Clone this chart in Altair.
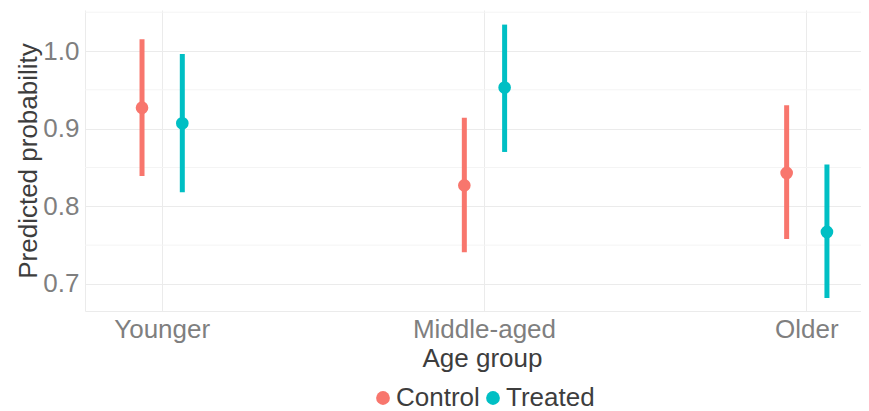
import altair as alt
import pandas as pd

groups = ["Younger", "Middle-aged", "Older"]
arms = ["Control", "Treated"]
control_est = [0.927, 0.827, 0.843]
control_lo = [0.839, 0.741, 0.758]
control_hi = [1.015, 0.914, 0.930]
treated_est = [0.907, 0.953, 0.767]
treated_lo = [0.818, 0.870, 0.682]
treated_hi = [0.996, 1.034, 0.854]
y_ticks = [0.7, 0.8, 0.9, 1.0]
y_minor = [0.75, 0.85, 0.95, 1.05]
palette = ["#F8766D", "#00BFC4"]

rows = []
for i, g in enumerate(groups):
    rows.append(dict(group=g, arm="Control", est=control_est[i], lo=control_lo[i], hi=control_hi[i]))
    rows.append(dict(group=g, arm="Treated", est=treated_est[i], lo=treated_lo[i], hi=treated_hi[i]))
df = pd.DataFrame(rows)
minor_df = pd.DataFrame({"v": y_minor})

FONT = "Liberation Sans"
FS = 26

x_scale = alt.Scale(domain=groups, paddingInner=0.875, paddingOuter=0.1413, align=0.626)
y_scale = alt.Scale(domain=[0.6652, 1.0528], zero=False, nice=False)
xo_scale = alt.Scale(type="point", padding=0, domain=arms)
color_scale = alt.Scale(domain=arms, range=palette)

x_axis = alt.Axis(
    title="Age group", labelAngle=0, ticks=False, grid=True, bandPosition=0.5,
    gridColor="#ebebeb", gridWidth=1, domainColor="#ebebeb", domainWidth=1,
    labelFont=FONT, labelFontSize=FS, labelColor="#7f7f7f", labelPadding=5,
    titleFont=FONT, titleFontSize=FS, titleColor="#3d3d3d", titleFontWeight="normal",
    titleX=397, titleY=55, titleBaseline="alphabetic", titleAnchor="start", titleAlign="center",
)
y_axis = alt.Axis(
    title="Predicted probability", values=y_ticks, format=".1f", ticks=False, grid=True,
    gridColor="#ebebeb", gridWidth=1, domainColor="#ebebeb", domainWidth=1,
    labelFont=FONT, labelFontSize=FS, labelColor="#7f7f7f", labelPadding=6,
    titleFont=FONT, titleFontSize=FS, titleColor="#3d3d3d", titleFontWeight="normal",
    titleAngle=270, titleX=-49, titleY=150.5, titleAlign="center", titleBaseline="alphabetic",
)

legend = alt.Legend(
    title=None, orient="none", direction="horizontal", legendX=285, legendY=375,
    labelFont=FONT, labelFontSize=FS, labelColor="#3d3d3d", symbolType="circle",
    symbolSize=190, symbolStrokeWidth=0, symbolOpacity=1, labelOffset=0, columnPadding=0,
    padding=0,
)

minor = alt.Chart(minor_df).mark_rule(color="#f4f4f4", strokeWidth=1).encode(
    y=alt.Y("v:Q", scale=y_scale, axis=y_axis)
)

base = alt.Chart(df).encode(
    x=alt.X("group:N", scale=x_scale, sort=groups, axis=x_axis),
    xOffset=alt.XOffset("arm:N", scale=xo_scale),
    color=alt.Color("arm:N", scale=color_scale, legend=legend),
)

bars = base.mark_rule(strokeWidth=5).encode(
    y=alt.Y("lo:Q", scale=y_scale, axis=y_axis),
    y2="hi:Q",
)
points = base.mark_point(filled=True, size=160, opacity=1).encode(
    y=alt.Y("est:Q", scale=y_scale, axis=y_axis),
)

chart = alt.layer(minor, bars, points).properties(
    width=776, height=301,
    autosize=alt.AutoSizeParams(type="none"),
    padding={"left": 77, "top": 2, "right": 0, "bottom": 100},
).configure_view(stroke=None)

chart.save("out.html", embed_options={"renderer": "svg", "actions": False})
